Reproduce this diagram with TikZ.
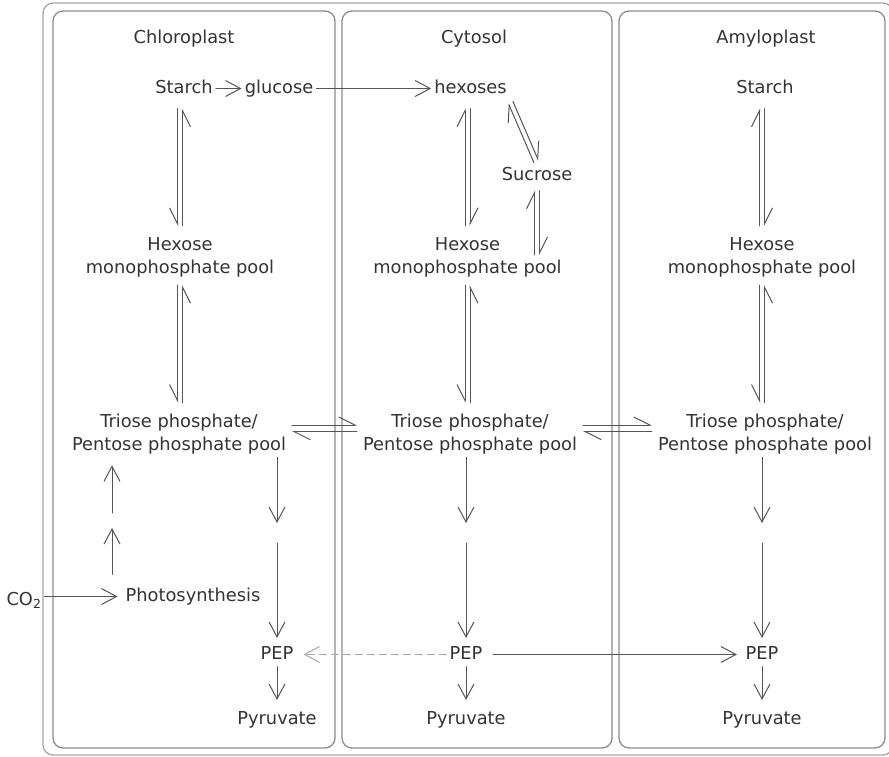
\documentclass[tikz,border=0pt]{standalone}
\usepackage{fontspec}
\setmainfont{DejaVu Sans}
\usetikzlibrary{arrows.meta,calc}

\definecolor{boxgray}{HTML}{8C8C8C}
\definecolor{outergray}{HTML}{A6A6A6}
\definecolor{linegray}{HTML}{555555}
\definecolor{txtgray}{HTML}{333333}
\definecolor{dashgray}{HTML}{A8A8A8}

\begin{document}
\begin{tikzpicture}[x=1pt, y=-1pt, line cap=round, line join=round,
  >={Straight Barb[length=15pt,width=16pt]},
  lbl/.style={inner sep=3pt, text=txtgray, font=\fontsize{17.8}{23}\selectfont, align=center},
  word/.style={lbl, text height=13.5pt, text depth=4.2pt},
  flow/.style={draw=linegray, line width=1pt, ->},
  eqL/.style={draw=linegray, line width=1pt, shorten <=8pt, shorten >=8pt,
    -{Straight Barb[left,length=16pt,width=16pt]}},
  eqR/.style={draw=linegray, line width=1pt, shorten <=8pt, shorten >=8pt,
    -{Straight Barb[right,length=16pt,width=16pt]}},
  comp/.style={draw=boxgray, line width=1.3pt, rounded corners=10pt}]
  \useasboundingbox (0,0) rectangle (889,757);
  \clip (0,0) rectangle (889,757);

  % --- compartments ---
  \draw[comp, draw=outergray] (43,3) rectangle (893,755);
  \draw[comp] (53,11) rectangle (335,748);
  \draw[comp] (342,11) rectangle (612,748);
  \draw[comp] (619,11) rectangle (885,748);
  \node[word] (chlTitle) at (184,38.5) {Chloroplast};
  \node[word] (cytTitle) at (474,38.5) {Cytosol};
  \node[word] (amyTitle) at (766,38.5) {Amyloplast};

  % --- chloroplast ---
  \node[word] (starchC) at (184,88.5) {Starch};
  \node[word] (glucose) at (279,88.5) {glucose};
  \node[lbl] (hexC) at (180,257) {Hexose\\monophosphate pool};
  \node[lbl] (trioseC) at (179,434) {Triose phosphate/\\Pentose phosphate pool};
  \node[word] (photo) at (193,596.5) {Photosynthesis};
  \node[word] (co2) at (24,600.5) {CO\textsubscript{2}};
  \node[word] (pepC) at (277,654.5) {PEP};
  \node[word] (pyrC) at (277,719.5) {Pyruvate};
  \coordinate (sC) at (277,533);
  \coordinate (sP) at (112,520);

  % --- cytosol ---
  \node[word] (hexoses) at (470.5,88.5) {hexoses};
  \node[word] (sucrose) at (537,175.5) {Sucrose};
  \node[lbl] (hexY) at (467.5,257) {Hexose\\monophosphate pool};
  \node[lbl] (trioseY) at (470,434) {Triose phosphate/\\Pentose phosphate pool};
  \node[word] (pepY) at (466,654.5) {PEP};
  \node[word] (pyrY) at (466,719.5) {Pyruvate};
  \coordinate (sY) at (466,533);

  % --- amyloplast ---
  \node[word] (starchA) at (765,88.5) {Starch};
  \node[lbl] (hexA) at (762,257) {Hexose\\monophosphate pool};
  \node[lbl] (trioseA) at (765,434) {Triose phosphate/\\Pentose phosphate pool};
  \node[word] (pepA) at (762,654.5) {PEP};
  \node[word] (pyrA) at (762,719.5) {Pyruvate};
  \coordinate (sA) at (762,533);

  % --- one-way arrows ---
  \draw[flow] (starchC) -- (glucose);
  \draw[flow] (glucose) -- (hexoses);
  \draw[flow, shorten >=5pt] (co2.east |- photo) -- (photo.west);
  \draw[flow, shorten <=10pt, shorten >=8pt] (sP |- photo.north) -- (sP);
  \draw[flow, shorten <=7pt, shorten >=8pt] (sP) -- (sP |- trioseC.south);
  \draw[flow, shorten >=10pt] (pepC |- trioseC.south) -- (sC);
  \draw[flow, shorten <=10pt, shorten >=4.5pt] (sC) -- (pepC.north);
  \draw[flow, shorten >=10pt] (pepY |- trioseY.south) -- (sY);
  \draw[flow, shorten <=10pt, shorten >=4.5pt] (sY) -- (pepY.north);
  \draw[flow, shorten >=10pt] (pepA |- trioseA.south) -- (sA);
  \draw[flow, shorten <=10pt, shorten >=4.5pt] (sA) -- (pepA.north);
  \draw[flow, shorten >=7.5pt] (pepC.south) -- (pyrC.north);
  \draw[flow, shorten >=7.5pt] (pepY.south) -- (pyrY.north);
  \draw[flow, shorten >=7.5pt] (pepA.south) -- (pyrA.north);
  \draw[flow, shorten <=7.5pt, shorten >=5.5pt] (pepY.east) -- (pepA.west);
  \draw[flow, draw=dashgray, dash pattern=on 7pt off 5pt, shorten >=7pt] (pepY.west) -- (pepC.east);

  % --- reversible pairs, chloroplast ---
  \draw[eqR, transform canvas={xshift=-2.5pt}] (starchC.south -| hexC) -- (hexC.north);
  \draw[eqR, transform canvas={xshift=2.5pt}] (hexC.north) -- (starchC.south -| hexC);
  \draw[eqR, shorten <=5pt, transform canvas={xshift=-2.5pt}] (hexC.south) -- (hexC.south |- trioseC.north);
  \draw[eqR, shorten >=5pt, transform canvas={xshift=2.5pt}] (hexC.south |- trioseC.north) -- (hexC.south);

  % --- reversible pairs, cytosol ---
  \draw[eqL, transform canvas={xshift=-2.5pt}] (hexY.north) -- (hexoses.south -| hexY);
  \draw[eqL, transform canvas={xshift=2.5pt}] (hexoses.south -| hexY) -- (hexY.north);
  \draw[eqR, shorten <=5pt, transform canvas={xshift=-2.5pt}] (hexY.south) -- (hexY.south |- trioseY.north);
  \draw[eqR, shorten >=5pt, transform canvas={xshift=2.5pt}] (hexY.south |- trioseY.north) -- (hexY.south);
  \draw[eqL, shorten <=2pt, shorten >=2pt, transform canvas={xshift=-2.3pt, yshift=-1pt}] (sucrose.north) -- (hexoses.south east);
  \draw[eqL, shorten <=2pt, shorten >=2pt, transform canvas={xshift=2.3pt, yshift=1pt}] (hexoses.south east) -- (sucrose.north);
  \draw[eqL, shorten <=2pt, shorten >=3pt, transform canvas={xshift=-2.5pt}] (sucrose.south |- hexY.center) -- (sucrose.south);
  \draw[eqL, shorten <=3pt, shorten >=2pt, transform canvas={xshift=2.5pt}] (sucrose.south) -- (sucrose.south |- hexY.center);

  % --- reversible pairs, amyloplast ---
  \draw[eqL, transform canvas={xshift=-2.5pt}] (hexA.north) -- (starchA.south -| hexA);
  \draw[eqL, transform canvas={xshift=2.5pt}] (starchA.south -| hexA) -- (hexA.north);
  \draw[eqR, shorten <=5pt, transform canvas={xshift=-2.5pt}] (hexA.south) -- (hexA.south |- trioseA.north);
  \draw[eqR, shorten >=5pt, transform canvas={xshift=2.5pt}] (hexA.south |- trioseA.north) -- (hexA.south);

  % --- triose exchange across membranes ---
  \draw[eqL, shorten <=3pt, shorten >=3pt, transform canvas={yshift=9pt}] (trioseC.east) -- (trioseY.west);
  \draw[eqL, shorten <=3pt, shorten >=3pt, transform canvas={yshift=2.3pt}] (trioseY.west) -- (trioseC.east);
  \draw[eqL, shorten <=3pt, shorten >=3pt, transform canvas={yshift=9pt}] (trioseY.east) -- (trioseA.west);
  \draw[eqL, shorten <=3pt, shorten >=3pt, transform canvas={yshift=2.3pt}] (trioseA.west) -- (trioseY.east);
\end{tikzpicture}
\end{document}
